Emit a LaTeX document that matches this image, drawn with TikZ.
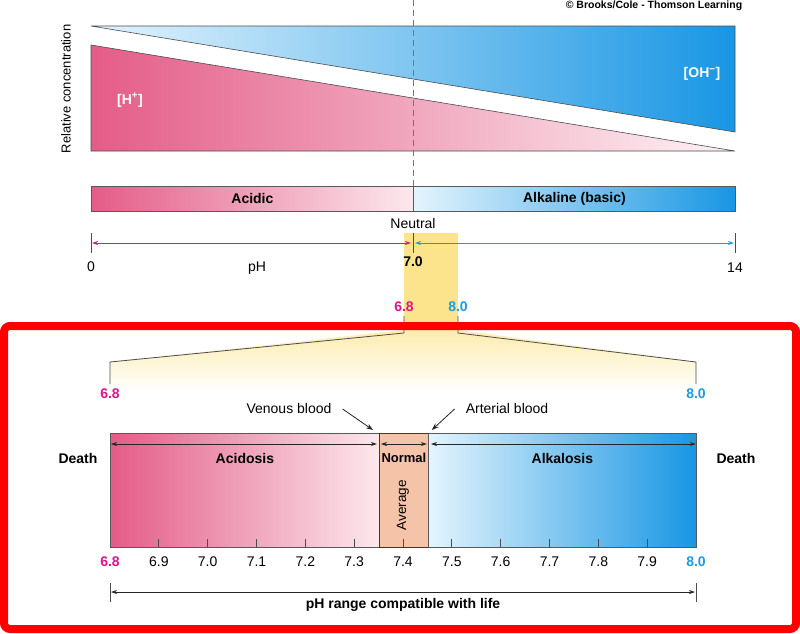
\documentclass[tikz,border=0pt]{standalone}
\usepackage{fontspec}
\setmainfont{Liberation Sans}
\usetikzlibrary{arrows.meta, positioning, calc}
\definecolor{phpink}{RGB}{228, 92, 135}
\definecolor{phpinklight}{RGB}{252, 232, 237}
\definecolor{phblue}{RGB}{24, 150, 228}
\definecolor{phbluemid}{RGB}{28, 170, 240}
\definecolor{phbluelight}{RGB}{228, 244, 253}
\definecolor{phmagenta}{RGB}{222, 20, 138}
\definecolor{phcyan}{RGB}{30, 155, 225}
\definecolor{phyellow}{RGB}{252, 228, 140}
\definecolor{phsalmon}{RGB}{245, 196, 168}
\definecolor{phframe}{RGB}{255, 0, 0}

\begin{document}
\begin{tikzpicture}[
  x=1pt, y=-1pt,
  txt/.style={font=\fontsize{14}{16}\selectfont, inner sep=1pt},
  btxt/.style={font=\bfseries\fontsize{14}{16}\selectfont, inner sep=1pt},
  tri/.style={draw=black!70, line width=0.6pt},
  barbox/.style={rectangle, draw=black!65, line width=0.8pt, inner sep=0pt,
               anchor=north west, font=\bfseries\fontsize{14}{16}\selectfont},
  dimarrow/.style={{Stealth[length=6pt,width=4pt]}-{Stealth[length=6pt,width=4pt]},
               line width=0.7pt, color=black!85},
  ptr/.style={-{Stealth[length=7pt,width=5pt]}, line width=0.8pt, color=black!85},
  tick/.style={line width=0.8pt, color=black!70},
]
  \useasboundingbox (0,0) rectangle (800,633);
  \fill[white] (0,0) rectangle (800,633);

  % Concentration triangles
  \path[tri, left color=phbluelight, middle color=phbluemid!70!white, right color=phblue]
    (91,26) -- (735,26) -- (735,132) -- cycle;
  \path[tri, left color=phpink, right color=phpinklight!50!white]
    (91,45) -- (91,151) -- (735,151) -- cycle;
  \node[font=\bfseries\fontsize{14}{16}\selectfont, text=white] (hion) at (130,100) {[H\textsuperscript{+}]};
  \node[font=\bfseries\fontsize{14}{16}\selectfont, text=white] (ohion) at (702,74) {[OH\textsuperscript{−}]};
  \node[font=\fontsize{13}{15}\selectfont, rotate=90] (relconc) at (66,89) {Relative concentration};
  \node[font=\bfseries\fontsize{10.5}{12}\selectfont] (copy) at (654,6) {© Brooks/Cole - Thomson Learning};

  % Neutral line
  \draw[black!55, line width=0.8pt, dash pattern=on 6pt off 4pt] (413,0) -- (413,186);

  % Acidic / alkaline bar
  \node[barbox, left color=phpink, right color=phpinklight, minimum width=322pt, minimum height=25pt] (acidic) at (91,186) {Acidic};
  \node[barbox, left color=phbluelight, middle color=phbluemid!80!white, right color=phblue, minimum width=322pt, minimum height=25pt] (alkaline) at (413,186) {Alkaline (basic)};

  % Yellow strip and zoom
  \fill[phyellow] (404,233) rectangle (458,331);
  \shade[top color=phyellow!70!white, bottom color=white]
    (404,330) -- (110,362) -- (110,392) -- (696,392) -- (696,362) -- (458,330) -- cycle;
  \draw[tick] (404,316) -- (404,333) -- (110,362) -- (110,384);
  \draw[tick] (458,316) -- (458,333) -- (696,362) -- (696,384);

  % pH scale
  \coordinate (p0) at (91,243);
  \coordinate (p7) at (413,243);
  \coordinate (p14) at (735,243);
  \draw[tick] (91,233) -- (91,253);
  \draw[tick] (413,233) -- (413,253);
  \draw[tick] (735,233) -- (735,253);
  \draw[dimarrow, color=phmagenta, line width=0.9pt] ($(p0)+(1,0)$) -- ($(p7)+(-2,0)$);
  \draw[dimarrow, color=phcyan, line width=0.9pt] ($(p7)+(2,0)$) -- ($(p14)+(-1,0)$);
  \node[txt] (neutral) at (413,223) {Neutral};
  \node[txt] (zero) at (91,267) {0};
  \node[txt] (ph) at (257,268) {pH};
  \node[btxt] (seven) at (413,262) {7.0};
  \node[txt] (fourteen) at (735,268) {14};
  \node[btxt, text=phmagenta] (lowtop) at (404,307) {6.8};
  \node[btxt, text=phcyan] (hightop) at (458,307) {8.0};
  \node[btxt, text=phmagenta] (lowmid) at (110,394) {6.8};
  \node[btxt, text=phcyan] (highmid) at (696,394) {8.0};

  % Blood pH bar
  \node[barbox, left color=phpink, right color=phpinklight, minimum width=269pt, minimum height=114pt] (acidosis) at (110,433) {};
  \node[barbox, fill=phsalmon, draw=black!60!brown, minimum width=49pt, minimum height=114pt] (normal) at (379,433) {};
  \node[barbox, left color=phbluelight, middle color=phbluemid, right color=phblue, minimum width=268pt, minimum height=114pt] (alkalosis) at (428,433) {};
  \draw[dimarrow] ($(acidosis.north west)+(1,11)$) -- ($(acidosis.north east)+(-3,11)$);
  \draw[dimarrow] ($(normal.north west)+(2,11)$) -- ($(normal.north east)+(-2,11)$);
  \draw[dimarrow] ($(alkalosis.north west)+(3,11)$) -- ($(alkalosis.north east)+(-1,11)$);
  \node[btxt] (acidlbl) at ($(acidosis.north)+(0,25)$) {Acidosis};
  \node[btxt, font=\bfseries\fontsize{13}{15}\selectfont] (normlbl) at ($(normal.north)+(0,25)$) {Normal};
  \node[btxt] (alklbl) at ($(alkalosis.north)+(0,25)$) {Alkalosis};
  \node[font=\fontsize{13.5}{15}\selectfont, rotate=90] (average) at (403,505) {Average};
  \node[btxt] (deathl) at (78,458) {Death};
  \node[btxt] (deathr) at (736,458) {Death};

  % Venous and arterial blood
  \node[txt] (venous) at (289,408) {Venous blood};
  \node[txt] (arterial) at (507,408) {Arterial blood};
  \draw[ptr] ($(venous.east)+(10,1)$) -- ($(normal.north west)+(-6,-3)$);
  \draw[ptr] ($(arterial.west)+(-10,1)$) -- ($(normal.north east)+(3,-3)$);

  % Tick marks
  \foreach \v [count=\i] in {6.9,7.0,7.1,7.2,7.3,7.4,7.5,7.6,7.7,7.8,7.9} {
    \pgfmathsetmacro\tx{110+\i*48.833}
    \draw[tick] (\tx,539) -- (\tx,547);
    \node[txt] (t\i) at (\tx,562) {\v};
  }
  \node[btxt, text=phmagenta] (lowbot) at (110,562) {6.8};
  \node[btxt, text=phcyan] (highbot) at (696,562) {8.0};

  % Compatible range
  \coordinate (rlow) at (110,592);
  \coordinate (rhigh) at (696,592);
  \draw[tick] (110,583) -- (110,602);
  \draw[tick] (696,583) -- (696,602);
  \draw[dimarrow] ($(rlow)+(1,0)$) -- ($(rhigh)+(-1,0)$);
  \node[btxt] (range) at (403,605) {pH range compatible with life};

  % Frame
  \draw[phframe, line width=8pt, rounded corners=6pt] (4,326) rectangle (796,629);
\end{tikzpicture}
\end{document}
